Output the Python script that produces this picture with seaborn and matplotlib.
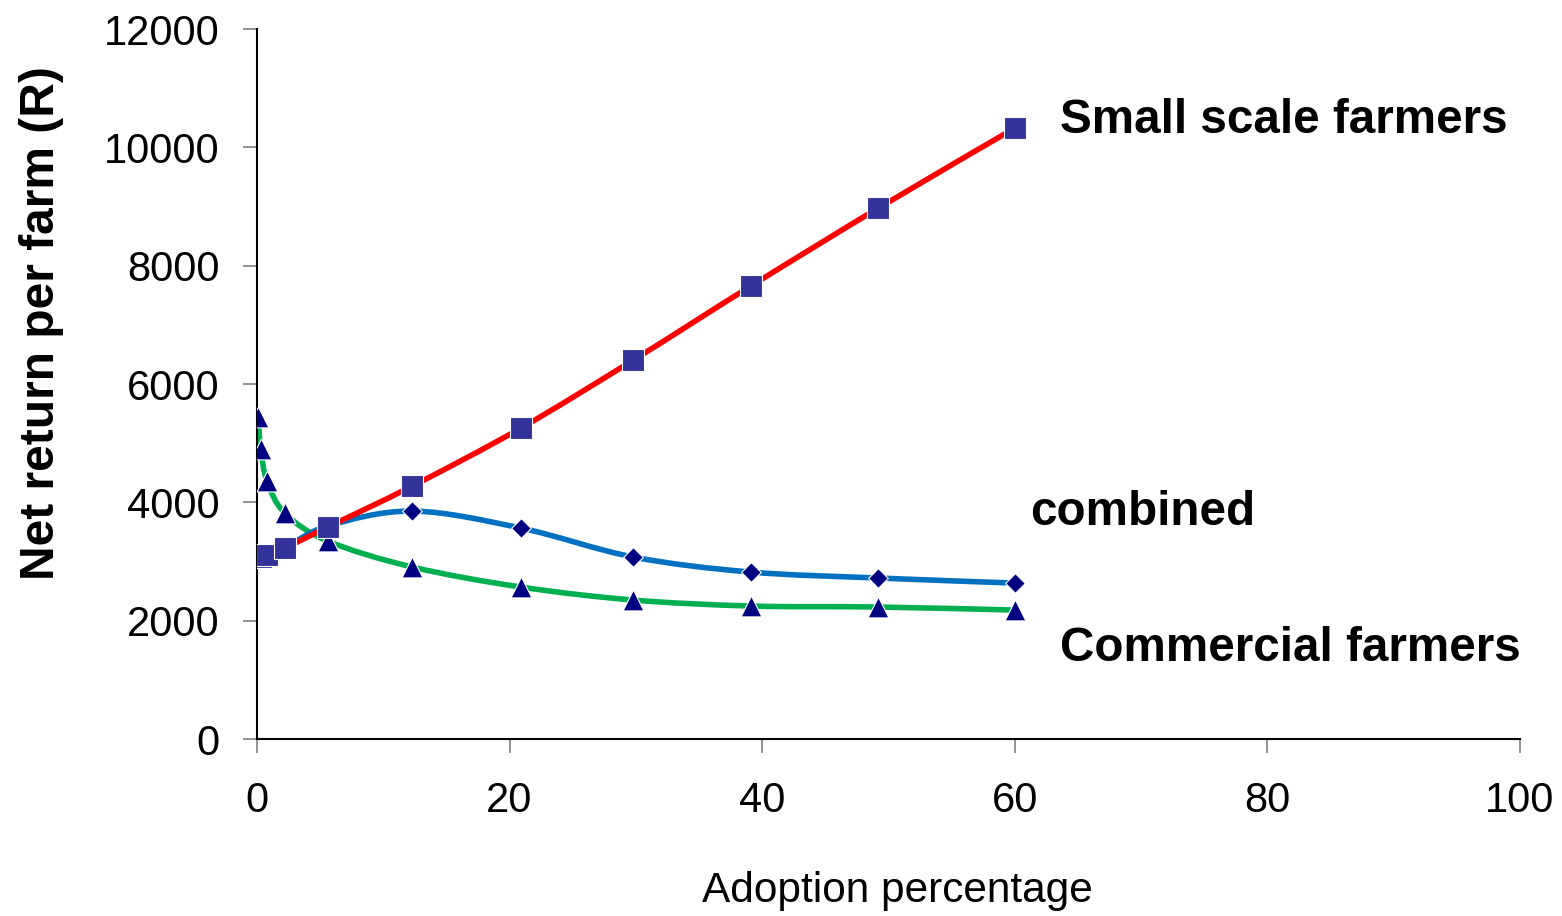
import numpy as np
import pandas as pd
import matplotlib
matplotlib.use("Agg")
import matplotlib.pyplot as plt
from matplotlib.path import Path
from matplotlib.patches import PathPatch
import seaborn as sns

# Adoption percentage at which each scenario was evaluated
adoption = [0.1, 0.3, 0.8, 2.2, 5.6, 12.3, 20.9, 29.8, 39.1, 49.2, 60.0]

# Net return per farm (R)
small_scale = [3076, 3080, 3110, 3228, 3583, 4276, 5256, 6405, 7656, 8974, 10326]
combined = [3076, 3085, 3115, 3230, 3600, 3853, 3566, 3076, 2822, 2721, 2636]
commercial = [5442, 4901, 4360, 3820, 3346, 2907, 2569, 2349, 2248, 2231, 2180]

x_ticks = [0, 20, 40, 60, 80, 100]
y_ticks = [0, 2000, 4000, 6000, 8000, 10000, 12000]

sns.set_style("white")
plt.rcParams["font.family"] = ["Liberation Sans", "DejaVu Sans"]
plt.rcParams["text.color"] = "black"
plt.rcParams["axes.labelcolor"] = "black"

fig = plt.figure(figsize=(15.62, 9.16), dpi=100)
ax = fig.add_axes([0.1645, 0.1932, 0.8086, 0.7751])


def smooth_path(xs, ys):
    """Bezier path through the points with Excel-style smoothing."""
    pts = np.column_stack([xs, ys]).astype(float)
    n = len(pts)
    verts = [pts[0]]
    codes = [Path.MOVETO]
    for i in range(n - 1):
        p0 = pts[i - 1] if i > 0 else pts[i]
        p1 = pts[i]
        p2 = pts[i + 1]
        p3 = pts[i + 2] if i + 2 < n else pts[i + 1]
        c1 = p1 + (p2 - p0) / 6.0
        c2 = p2 - (p3 - p1) / 6.0
        verts += [c1, c2, p2]
        codes += [Path.CURVE4] * 3
    return Path(verts, codes)


series = [
    ("Commercial farmers", commercial, "#00B050", "^", "#000080", 15),
    ("combined", combined, "#0070C0", "D", "#000080", 10),
    ("Small scale farmers", small_scale, "#FF0000", "s", "#333399", 16),
]

for name, values, line_color, marker, marker_color, msize in series:
    ax.add_patch(PathPatch(smooth_path(adoption, values), facecolor="none",
                           edgecolor=line_color, lw=4.0, capstyle="round",
                           joinstyle="round", zorder=2))

for name, values, line_color, marker, marker_color, msize in series:
    df = pd.DataFrame({"x": adoption, "y": values})
    sns.scatterplot(data=df, x="x", y="y", marker=marker, s=msize ** 2,
                    color=marker_color, edgecolor="white", linewidth=0.8,
                    ax=ax, zorder=3, legend=False)

ax.set_xlim(0, 100)
ax.set_ylim(0, 12000)
ax.set_xticks(x_ticks)
ax.set_yticks(y_ticks)
ax.tick_params(axis="both", labelsize=30, colors="#808080", labelcolor="black",
               direction="out", length=10, width=1.2)
ax.tick_params(axis="x", pad=20)
ax.tick_params(axis="y", pad=17)
ax.tick_params(left=True, bottom=True)

for side in ["top", "right"]:
    ax.spines[side].set_visible(False)
for side in ["left", "bottom"]:
    ax.spines[side].set_color("black")
    ax.spines[side].set_linewidth(1.5)

ax.set_xlabel("Adoption percentage", fontsize=30.5)
ax.xaxis.set_label_coords(0.507, -0.186)
ax.set_ylabel("Net return per farm (R)", fontsize=34.5, fontweight="bold")
ax.yaxis.set_label_coords(-0.153, 0.586)

ax.text(63.6, 10460, "Small scale farmers", fontsize=34.3, fontweight="bold",
        va="center", ha="left")
ax.text(61.2, 3830, "combined", fontsize=34.3, fontweight="bold",
        va="center", ha="left")
ax.text(63.6, 1530, "Commercial farmers", fontsize=34.3, fontweight="bold",
        va="center", ha="left")

fig.savefig("out.png", dpi=100)
